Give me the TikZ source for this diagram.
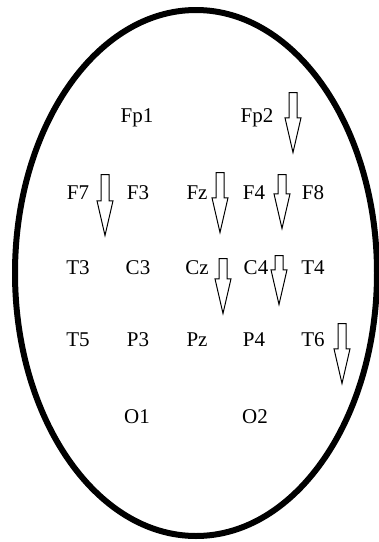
\documentclass[tikz,border=0pt]{standalone}
\usepackage{fontspec}
\setmainfont{Liberation Serif}
\usetikzlibrary{shapes.arrows, positioning}
\tikzset{
	scalp/.style  ={draw=black, line width=6pt},
	elec/.style   ={font=\fontsize{21}{25}\selectfont, inner sep=1pt},
	downarr/.style={single arrow, draw=black, line width=1pt, fill=white, shape border rotate=270, inner sep=3.5pt, minimum width=15pt, single arrow head extend=4pt, single arrow tip angle=26, anchor=tail},
}
\begin{document}
\begin{tikzpicture}[x=1pt, y=-1pt]
	\useasboundingbox (0,0) rectangle (379,542);
	\draw[scalp] (196,273) ellipse [x radius=181pt, y radius=263pt];
	% electrodes
	\node[elec] (fp1) at (137,118) {Fp1};
	\node[elec] (fp2) at (257,118) {Fp2};
	\node[elec] (f7) at (78,193) {F7};
	\node[elec] (f3) at (138,193) {F3};
	\node[elec] (fz) at (197,193) {Fz};
	\node[elec] (f4) at (254,193) {F4};
	\node[elec] (f8) at (313,193) {F8};
	\node[elec] (t3) at (78,268) {T3};
	\node[elec] (c3) at (138,268) {C3};
	\node[elec] (cz) at (197,268) {Cz};
	\node[elec] (c4) at (256,268) {C4};
	\node[elec] (t4) at (313,268) {T4};
	\node[elec] (t5) at (78,340) {T5};
	\node[elec] (p3) at (138,340) {P3};
	\node[elec] (pz) at (197,340) {Pz};
	\node[elec] (p4) at (254,340) {P4};
	\node[elec] (t6) at (313,340) {T6};
	\node[elec] (o1) at (137,417) {O1};
	\node[elec] (o2) at (255,417) {O2};
	% arrows
	\node[downarr, minimum height=60pt] (afp2) at (293,92) {};
	\node[downarr, minimum height=61pt] (af7) at (105,174) {};
	\node[downarr, minimum height=60pt] (afz) at (220,172) {};
	\node[downarr, minimum height=54pt] (af4) at (282,174) {};
	\node[downarr, minimum height=55pt] (acz) at (223,258) {};
	\node[downarr, minimum height=49pt] (ac4) at (279,255) {};
	\node[downarr, minimum height=60pt] (at6) at (342,323) {};
\end{tikzpicture}
\end{document}
